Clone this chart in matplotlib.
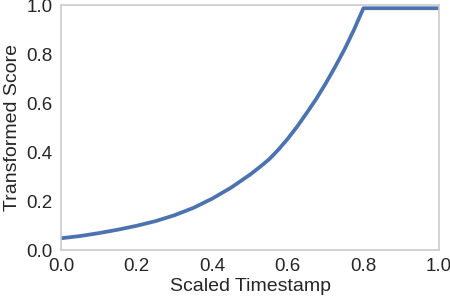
import matplotlib
matplotlib.use('Agg')
import matplotlib.pyplot as plt

# values
timestamp = [0.00, 0.05, 0.10, 0.15, 0.20, 0.25, 0.30, 0.35, 0.40, 0.45,
             0.50, 0.525, 0.55, 0.575, 0.60, 0.625, 0.65, 0.675, 0.70, 0.725,
             0.75, 0.775, 0.80, 1.00]
score = [0.048, 0.057, 0.069, 0.083, 0.099, 0.118, 0.142, 0.172, 0.210, 0.255,
         0.308, 0.338, 0.370, 0.410, 0.455, 0.505, 0.560, 0.617, 0.680, 0.748,
         0.820, 0.900, 0.988, 0.988]

plt.rcParams['font.family'] = ['Liberation Sans', 'DejaVu Sans']

fig = plt.figure(figsize=(4.5, 3.04), dpi=100)
ax = fig.add_axes([0.1356, 0.1776, 0.84, 0.805])

ax.plot(timestamp, score, color='#4C72B0', linewidth=2.7,
        solid_joinstyle='round', solid_capstyle='butt')

ax.set_xlim(0, 1.0)
ax.set_ylim(0, 1.0)
ax.set_xticks([0.0, 0.2, 0.4, 0.6, 0.8, 1.0])
ax.set_yticks([0.0, 0.2, 0.4, 0.6, 0.8, 1.0])
ax.tick_params(length=0, pad=6, labelsize=13.5, colors='#262626')

for s in ax.spines.values():
    s.set_color('#cccccc')
    s.set_linewidth(1.2)

ax.set_xlabel('Scaled Timestamp', fontsize=14, color='#262626', labelpad=2)
ax.set_ylabel('Transformed Score', fontsize=14, color='#262626', labelpad=4)

fig.savefig('out.png', dpi=100)
